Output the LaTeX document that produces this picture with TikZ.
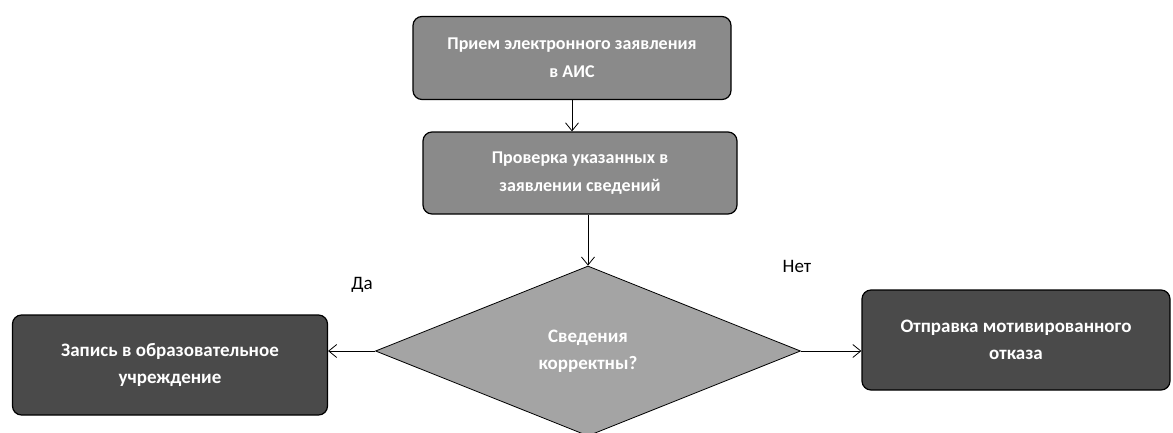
\documentclass[tikz,border=0pt]{standalone}
\usepackage{fontspec}
\setmainfont{Carlito}
\usetikzlibrary{shapes.geometric,arrows.meta}
\definecolor{midgray}{HTML}{8A8A8A}
\definecolor{lightgray}{HTML}{A4A4A4}
\definecolor{darkgray}{HTML}{4A4A4A}
\begin{document}
\begin{tikzpicture}[x=1pt,y=-1pt,
  procbox/.style={draw=black,line width=1.2pt,rounded corners=9pt,fill=midgray,text=white,
    font=\fontsize{18}{28}\selectfont\bfseries,align=center,inner sep=0pt},
  endbox/.style={procbox,fill=darkgray,font=\fontsize{19}{27}\selectfont\bfseries},
  decide/.style={diamond,draw=black,line width=0.8pt,fill=lightgray,text=white,
    font=\fontsize{19}{27}\selectfont\bfseries,align=center,inner sep=0pt,aspect=2.5},
  conn/.style={draw=black,line width=0.8pt,-{Straight Barb[length=8pt,width=13pt]}},
  lbl/.style={font=\fontsize{19}{22}\selectfont,text=black}]
\useasboundingbox (0,0) rectangle (1173,432);
\node[procbox,minimum width=318pt,minimum height=83pt] (b1) at (572,58)
  {Прием электронного заявления\\в АИС};
\node[procbox,minimum width=314pt,minimum height=82pt] (b2) at (580,173)
  {Проверка указанных в\\заявлении сведений};
\node[decide,minimum width=425pt,minimum height=170pt] (d) at (588,351)
  {Сведения\\корректны?};
\node[endbox,minimum width=315pt,minimum height=100pt] (l) at (170,365)
  {Запись в образовательное\\учреждение};
\node[endbox,minimum width=308pt,minimum height=100pt] (r) at (1016,340)
  {Отправка мотивированного\\отказа};
\node[lbl] (da) at (362,285) {Да};
\node[lbl] (net) at (797,266) {Нет};
\draw[conn] (b1.south) -- (b1.south |- b2.north);
\draw[conn] (d.north |- b2.south) -- (d.north);
\draw[conn] (d.west) -- (d.west -| l.east);
\draw[conn] (d.east) -- (d.east -| r.west);
\end{tikzpicture}
\end{document}
